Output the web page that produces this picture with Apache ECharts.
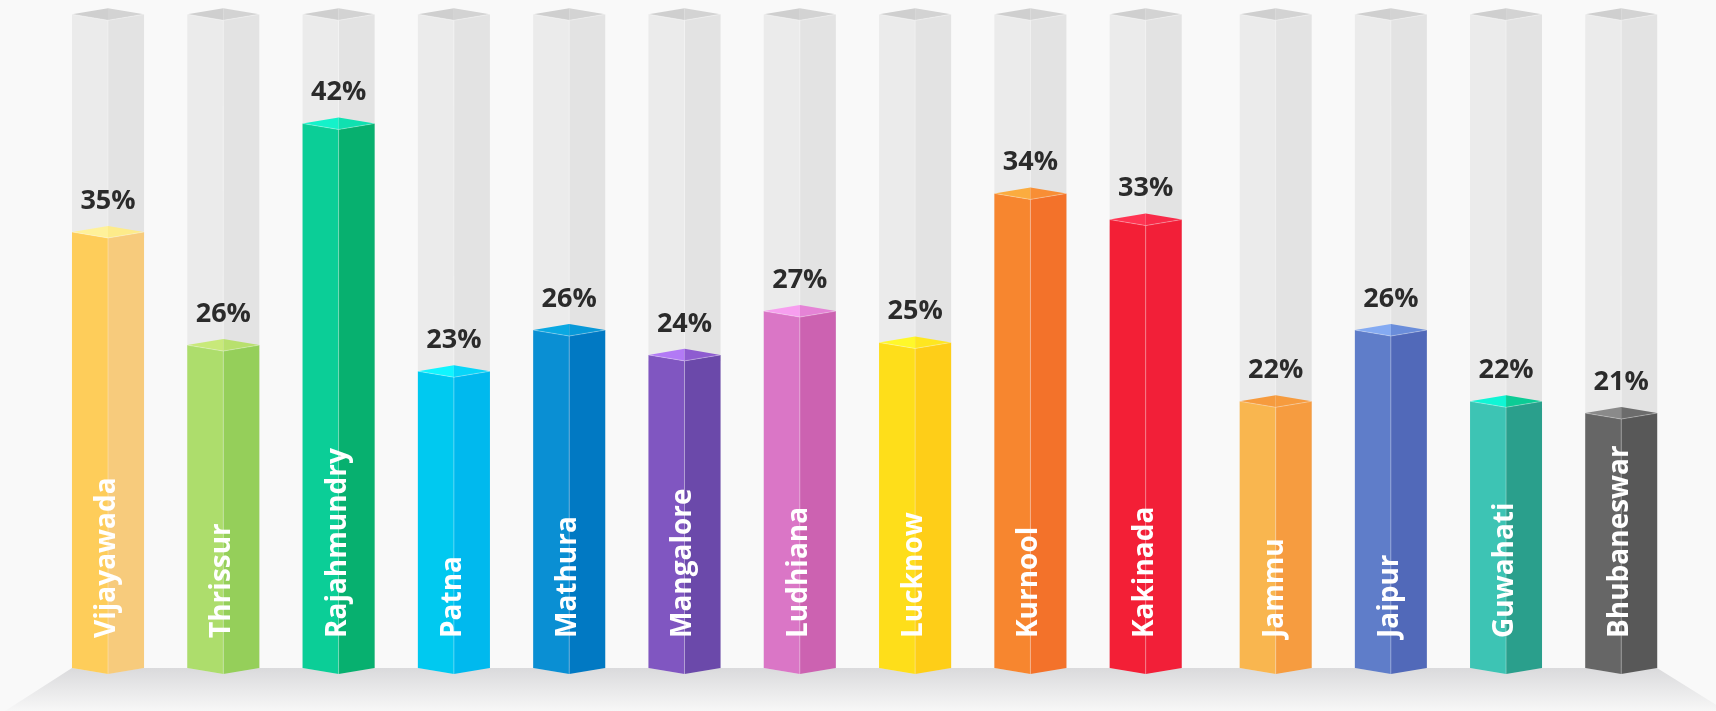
<!DOCTYPE html>
<html>
<head>
<meta charset="utf-8">
<script src="https://cdn.jsdelivr.net/npm/echarts/dist/echarts.min.js"></script>
<style>
html,body{margin:0;padding:0;background:#f9f9f9;}
#chart{width:1716px;height:711px;}
</style>
</head>
<body>
<div id="chart"></div>
<script>
// ---- data ----
const cities = ['Vijayawada','Thrissur','Rajahmundry','Patna','Mathura','Mangalore','Ludhiana','Lucknow','Kurnool','Kakinada','Jammu','Jaipur','Guwahati','Bhubaneswar'];
const percents = [35,26,42,23,26,24,27,25,34,33,22,26,22,21];
// drawn bar heights, as % of the grey track (read off the picture; not proportional to labels)
const levels = [66.7,49.4,83.3,45.4,51.7,47.9,54.6,49.8,72.6,68.6,40.8,51.7,40.8,39.0];
const trackLevel = 100;
const groupSplit = 10; // first group of 10 bars, then a group of 4

// ---- palette ----
const faceLeft  = ['#FECD5A','#ADDD6C','#0BCE97','#00C9F0','#0A8FD3','#8056C1','#DA76C6','#FEDE1A','#F7862F','#F31F36','#F9B64F','#5F7DC9','#3DC4B4','#666666'];
const faceRight = ['#F7CB7C','#95CF5A','#07B06F','#00B9EE','#0179C3','#6B49AA','#CC62B1','#FECE18','#F3722A','#F21F38','#F69C40','#5169B9','#2A9F8C','#585858'];
const capLeft   = ['#FFF19A','#C8E97A','#14F2CA','#10F5FF','#0AA8E2','#B27AF5','#F79EEF','#FFF82A','#FBAC3F','#FF3452','#F69B3E','#84AAF2','#10F5D5','#8A8A8A'];
const capRight  = ['#FDEB8A','#B8E06E','#10E0B0','#08D5F8','#0898D8','#8E5CD0','#E583D6','#FEE620','#F88E35','#F82A48','#F69B3E','#6A8DDA','#0CCB95','#6C6C6C'];

const FONT = '"Open Sans", Lato, sans-serif';

function prism(L, cx, R, ty, by, d, cL, cR, kL, kR, lineCol){
  return [
    {type:'polygon', shape:{points:[[L,ty],[cx,ty+d],[cx,by+d],[L,by]]}, style:{fill:cL}},
    {type:'polygon', shape:{points:[[cx,ty+d],[R,ty],[R,by],[cx,by+d]]}, style:{fill:cR}},
    {type:'line', shape:{x1:cx,y1:ty+d,x2:cx,y2:by+d}, style:{stroke:lineCol,lineWidth:1}},
    {type:'polygon', shape:{points:[[L,ty],[cx,ty-d],[cx,ty+d]]}, style:{fill:kL}},
    {type:'polygon', shape:{points:[[cx,ty-d],[R,ty],[cx,ty+d]]}, style:{fill:kR}},
    {type:'polyline', shape:{points:[[L,ty],[cx,ty+d],[R,ty]]}, style:{stroke:lineCol,lineWidth:1,fill:null}}
  ];
}

function renderItem(params, api){
  const idx = api.value(2);
  const cat = api.value(0);
  const top = api.coord([cat, api.value(1)]);
  const base = api.coord([cat, 0]);
  const trk = api.coord([cat, trackLevel]);
  const hw = api.size([1,0])[0]*0.3125;
  const d = hw/6;
  const cx = top[0], L = cx-hw, R = cx+hw;
  const children = [];
  // grey track
  children.push(...prism(L,cx,R,trk[1],base[1],d,'#EBEBEB','#E3E3E3','#CFCFCF','#D3D3D3','rgba(255,255,255,0.35)'));
  // coloured bar
  children.push(...prism(L,cx,R,top[1],base[1],d,faceLeft[idx],faceRight[idx],capLeft[idx],capRight[idx],'rgba(255,255,255,0.3)'));
  // value label
  children.push({type:'text', x:cx, y:top[1]-31, style:{
    text: percents[idx]+'%', fill:'#2B2B2B', font:'bold 27px '+FONT, align:'center', verticalAlign:'middle'
  }});
  // city label, rotated
  children.push({type:'text', x:cx-1, y:base[1]-30, rotation:Math.PI/2, style:{
    text: cities[idx], fill:'#FFFFFF', font:'bold 28px '+FONT, align:'left', verticalAlign:'middle',
    shadowBlur:7, shadowColor:'rgba(0,0,0,0.3)', shadowOffsetX:4, shadowOffsetY:2
  }});
  return {type:'group', children};
}

function groupData(from, to){
  const out = [];
  for(let i=from;i<to;i++) out.push([cities[i], levels[i], i]);
  return out;
}

const chart = echarts.init(document.getElementById('chart'), null, {renderer:'canvas'});
const axisHidden = {show:false};
chart.setOption({
  backgroundColor:'#F9F9F9',
  animation:false,
  graphic:[{
    type:'polygon', z:0, silent:true,
    shape:{points:[[72,668],[1657,668],[1726,711],[5,711]]},
    style:{fill:new echarts.graphic.LinearGradient(0,0,0,1,[{offset:0,color:'#DADADC'},{offset:1,color:'#F7F7F7'}])}
  }],
  grid:[
    {left:50.35, width:1153, top:14.3, bottom:43},
    {left:1218.1, width:460.7, top:14.3, bottom:43}
  ],
  xAxis:[
    {type:'category', gridIndex:0, data:cities.slice(0,groupSplit), ...axisHidden},
    {type:'category', gridIndex:1, data:cities.slice(groupSplit), ...axisHidden}
  ],
  yAxis:[
    {type:'value', gridIndex:0, min:0, max:trackLevel, ...axisHidden},
    {type:'value', gridIndex:1, min:0, max:trackLevel, ...axisHidden}
  ],
  series:[
    {type:'custom', xAxisIndex:0, yAxisIndex:0, z:5, clip:false, renderItem, encode:{x:0,y:1}, data:groupData(0,groupSplit)},
    {type:'custom', xAxisIndex:1, yAxisIndex:1, z:5, clip:false, renderItem, encode:{x:0,y:1}, data:groupData(groupSplit,cities.length)}
  ]
});
</script>
</body>
</html>
